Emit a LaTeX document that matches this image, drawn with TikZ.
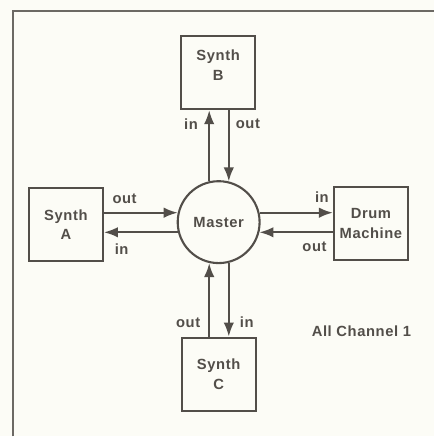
\documentclass[tikz,border=0pt]{standalone}
\usepackage{fontspec}
\setmainfont{Liberation Sans}[LetterSpace=4]
\usetikzlibrary{arrows.meta}
\definecolor{ink}{HTML}{524E49}
\definecolor{paper}{HTML}{FCFCF6}
\begin{document}
\begin{tikzpicture}[x=0.025cm,y=-0.025cm,>={Latex[length=10pt,width=7.5pt]},color=ink,line width=1.5pt,
  font=\bfseries\fontsize{10.5}{13.9}\selectfont,
  unit/.style={draw,minimum width=1.85cm,minimum height=1.84cm,align=center,inner sep=1pt},
  lbl/.style={inner sep=0pt}]
\fill[paper] (0,0) rectangle (435,437);
\draw[line width=1pt,ink!85] (13,437) -- (13,11) -- (435,11);
\node[unit,text depth=10pt] (synthB) at (218.5,72.5) {Synth\\B};
\node[unit] (synthA) at (66,225) {Synth\\A};
\node[unit] (drum) at (371.5,224) {Drum\\Machine};
\node[unit] (synthC) at (219,375) {Synth\\C};
\node[draw,circle,minimum size=2.05cm,inner sep=0pt] (master) at (219,222.5) {Master};
\node (note) at (362,332) {All Channel 1};
\draw[->] (master.103) -- node[lbl,pos=.81,left=.26cm]{in} (master.103 |- synthB.south);
\draw[->] (master.76 |- synthB.south) -- node[lbl,pos=.19,right=.15cm]{out} (master.76);
\draw[->] (synthA.east |- master.167) -- node[lbl,pos=.28,above=.2cm]{out} (master.167);
\draw[->] (master.194) -- node[lbl,pos=.76,below=.27cm]{in} (master.194 -| synthA.east);
\draw[->] (master.13) -- node[lbl,pos=.85,above=.22cm]{in} (master.13 -| drum.west);
\draw[->] (master.-14 -| drum.west) -- node[lbl,pos=.25,below=.22cm]{out} (master.-14);
\draw[->] (master.257 |- synthC.north) -- node[lbl,pos=.19,left=.2cm]{out} (master.257);
\draw[->] (master.284) -- node[lbl,pos=.81,right=.25cm]{in} (master.284 |- synthC.north);
\end{tikzpicture}
\end{document}
